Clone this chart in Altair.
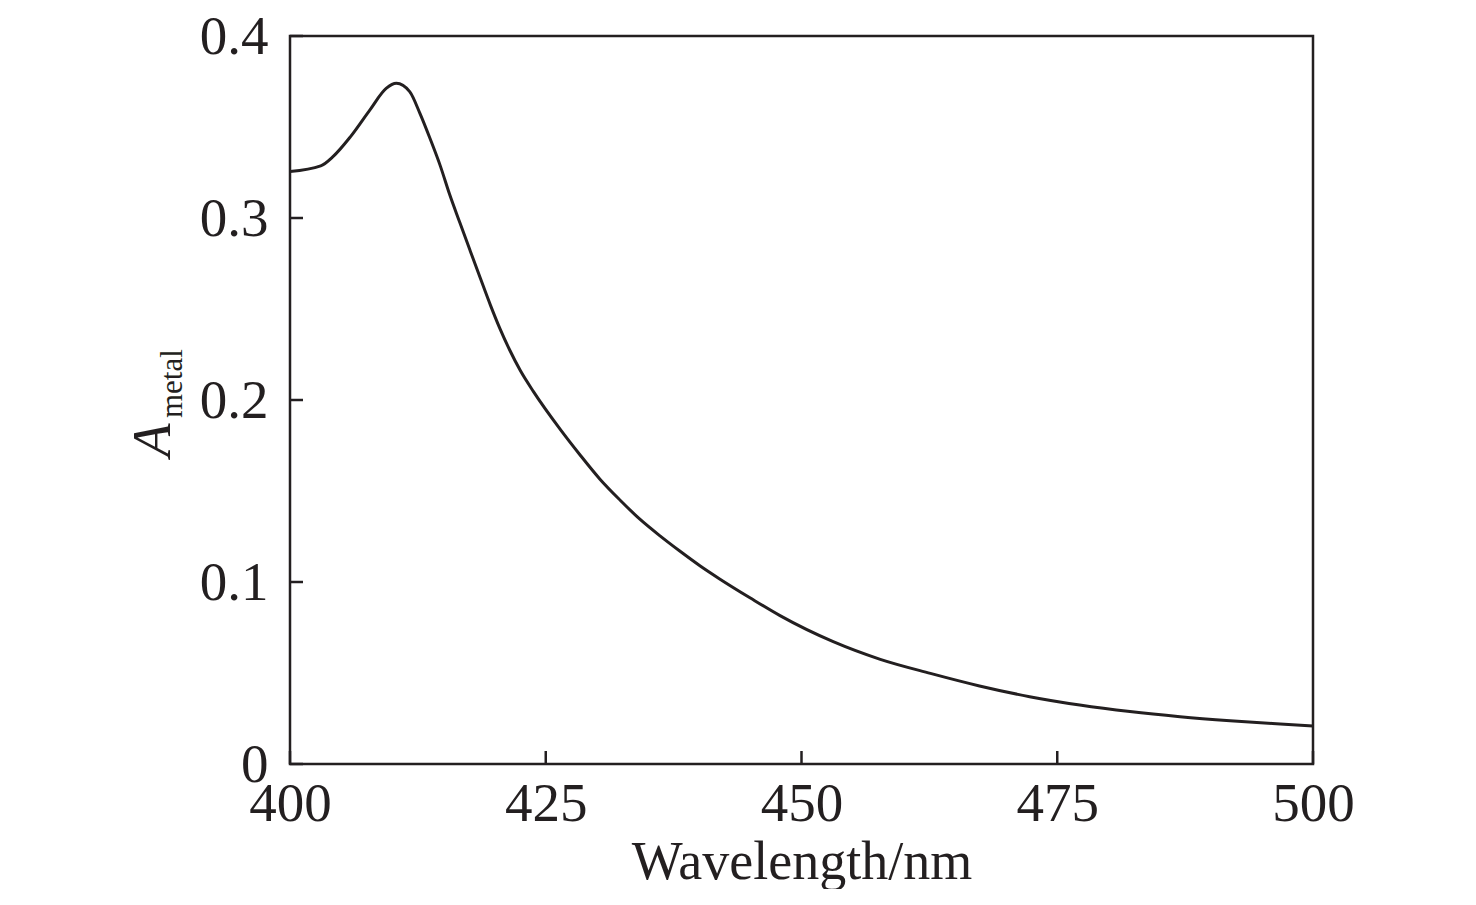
import altair as alt
import pandas as pd

wavelength = [400, 403, 404.2, 405.9, 407.8, 409.4, 410.4, 411.7, 412.7, 413.7, 414.7, 415.6,
              416.6, 417.6, 418.6, 419.6, 420.5, 421.5, 422.5, 423.8, 426.4, 428.3, 430.3,
              432.3, 434.2, 436.2, 438.1, 440.1, 442.0, 445.0, 447.9, 453.1, 457.7, 462.6,
              467.4, 472.3, 477.2, 482.1, 487.0, 491.9, 496.8, 500]
absorbance = [0.3255, 0.3286, 0.3337, 0.3446, 0.3593, 0.3712, 0.374, 0.3694, 0.3575, 0.3435,
              0.3285, 0.3130, 0.2975, 0.2822, 0.2670, 0.2520, 0.2395, 0.2272, 0.2163, 0.2046,
              0.1840, 0.1702, 0.1565, 0.1448, 0.1345, 0.1252, 0.1170, 0.1088, 0.1017, 0.0912,
              0.0815, 0.0672, 0.0575, 0.0498, 0.0429, 0.0370, 0.0324, 0.0288, 0.0260, 0.0238,
              0.0220, 0.0209]

x_ticks = [400, 425, 450, 475, 500]
y_ticks = [0, 0.1, 0.2, 0.3, 0.4]

FONT = "Liberation Serif"
INK = "#231f20"
W, H = 1023, 728

df = pd.DataFrame({"wl": wavelength, "a": absorbance})
xs = alt.Scale(domain=[400, 500], nice=False, zero=False)
ys = alt.Scale(domain=[0, 0.4], nice=False)

line = alt.Chart(df).mark_line(color=INK, strokeWidth=3, interpolate="monotone").encode(
    x=alt.X("wl:Q", scale=xs,
            axis=alt.Axis(values=x_ticks, title="Wavelength/nm", ticks=False, domain=False,
                          grid=False, labelFont=FONT, labelFontSize=55, labelColor=INK,
                          labelPadding=13, titleFont=FONT, titleFontSize=54,
                          titleFontWeight="normal", titleColor=INK, titlePadding=4,
                          labelFlush=False)),
    y=alt.Y("a:Q", scale=ys,
            axis=alt.Axis(values=y_ticks, title=None, ticks=False, domain=False, grid=False,
                          labelFont=FONT, labelFontSize=55, labelColor=INK, labelPadding=22,
                          labelFlush=False,
                          labelExpr="datum.value == 0 ? '0' : format(datum.value, '.1f')")),
)

yt = alt.Chart(pd.DataFrame({"v": y_ticks})).mark_rule(color=INK, strokeWidth=2.5).encode(
    y=alt.Y("v:Q", scale=ys), x=alt.value(0), x2=alt.value(13))
xt = alt.Chart(pd.DataFrame({"v": x_ticks})).mark_rule(color=INK, strokeWidth=2.5).encode(
    x=alt.X("v:Q", scale=xs), y=alt.value(H), y2=alt.value(H - 13))

title_a = alt.Chart(pd.DataFrame({"t": ["A"]})).mark_text(
    font=FONT, fontSize=55, fontStyle="italic", color=INK, angle=270,
    align="left", baseline="alphabetic").encode(
    text="t:N", x=alt.value(-120), y=alt.value(421))
title_sub = alt.Chart(pd.DataFrame({"t": ["metal"]})).mark_text(
    font=FONT, fontSize=31, color=INK, angle=270,
    align="left", baseline="alphabetic").encode(
    text="t:N", x=alt.value(-108), y=alt.value(382))

chart = alt.layer(line, yt, xt, title_a, title_sub).properties(
    width=W, height=H,
    autosize=alt.AutoSizeParams(type="none"),
    padding={"left": 282, "top": 28, "right": 155, "bottom": 125},
).configure(background="white", view=alt.ViewConfig(stroke=INK, strokeWidth=2.5))

chart.save("out.html", embed_options={"renderer": "svg", "actions": False})
